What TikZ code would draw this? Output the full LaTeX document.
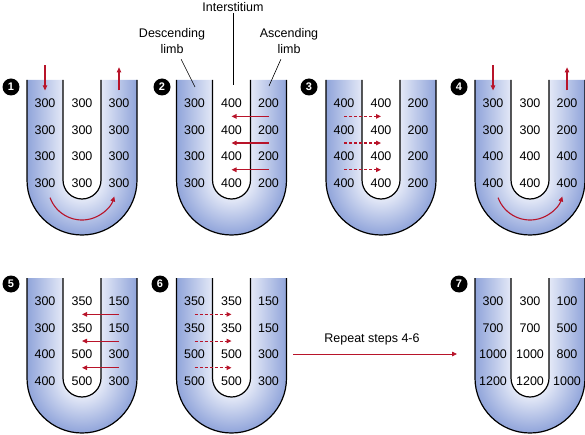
\documentclass[tikz,border=0pt]{standalone}
\usepackage{fontspec}
\setmainfont{Liberation Sans}
\usetikzlibrary{arrows.meta,calc,positioning}
\definecolor{tubedark}{HTML}{90A4DA}
\definecolor{tubelight}{HTML}{E4E9F7}
\definecolor{flow}{HTML}{B8142A}
\pgfdeclareradialshading{tubebend}{\pgfpoint{0bp}{0bp}}{color(0bp)=(tubelight); color(8.6bp)=(tubelight); color(25bp)=(tubedark); color(50bp)=(tubedark)}
\tikzset{
  wall/.style={line width=1.2pt,line join=round},
  num/.style={inner sep=1pt,font=\fontsize{12.5}{15}\selectfont},
  lbl/.style={inner sep=1pt,align=center,font=\fontsize{12.5}{16}\selectfont},
  leader/.style={line width=0.6pt},
  badge/.style={circle,fill=black,text=white,inner sep=0pt,minimum size=17pt,font=\fontsize{11}{11}\selectfont\bfseries},
  pump/.style={flow,line width=1.1pt,-{Triangle[length=5pt,width=4.5pt]}},
  seep/.style={pump,dash pattern=on 3pt off 2pt},
}
% #1 = centre x, #2 = top of the loop
\newcommand{\utube}[2]{%
  \begin{scope}
    \clip (#1-55,#2) -- (#1-55,#2-100) arc[start angle=180,end angle=360,radius=55pt]
      -- (#1+55,#2) -- (#1+19,#2) -- (#1+19,#2-100) arc[start angle=0,end angle=-180,radius=19pt]
      -- (#1-19,#2) -- cycle;
    \shade[left color=tubedark,right color=tubelight] (#1-55,#2-100) rectangle (#1-19,#2);
    \shade[left color=tubelight,right color=tubedark] (#1+19,#2-100) rectangle (#1+55,#2);
    \clip (#1-56,#2-100) rectangle (#1+56,#2-160);
    \shade[shading=tubebend] (#1,#2-100) circle[radius=55pt];
  \end{scope}
  \draw[wall] (#1-55,#2) -- (#1-55,#2-100) arc[start angle=180,end angle=360,radius=55pt] -- (#1+55,#2);
  \draw[wall] (#1-19,#2) -- (#1-19,#2-100) arc[start angle=180,end angle=360,radius=19pt] -- (#1+19,#2);
}
% #1 = name, #2 = centre x, #3 = top, #4 = rows desc/inter/asc
\newcommand{\tubevals}[4]{%
  \foreach \a/\b/\c [count=\r] in {#4} {
    \node[num] (#1-l\r) at (#2-37,#3-23-26.7*\r+26.7) {\a};
    \node[num] (#1-m\r) at (#2,#3-23-26.7*\r+26.7) {\b};
    \node[num] (#1-r\r) at (#2+37,#3-23-26.7*\r+26.7) {\c};
  }}

\begin{document}
\begin{tikzpicture}[x=1pt,y=1pt]
  \useasboundingbox (0,0) rectangle (585,434);
  \foreach \tx/\ty in {82/354,231.5/354,381/354,530/354,82/156,231.5/156,530/156}
    \utube{\tx}{\ty};

  \tubevals{t1}{82}{354}{300/300/300,300/300/300,300/300/300,300/300/300}
  \tubevals{t2}{231.5}{354}{300/400/200,300/400/200,300/400/200,300/400/200}
  \tubevals{t3}{381}{354}{400/400/200,400/400/200,400/400/200,400/400/200}
  \tubevals{t4}{530}{354}{300/300/200,300/300/200,400/400/400,400/400/400}
  \tubevals{t5}{82}{156}{300/350/150,300/350/150,400/500/300,400/500/300}
  \tubevals{t6}{231.5}{156}{350/350/150,350/350/150,500/500/300,500/500/300}
  \tubevals{t7}{530}{156}{300/300/100,700/700/500,1000/1000/800,1200/1200/1000}

  \node[badge] (b1) at (11,347) {1};
  \node[badge] (b2) at (162,347) {2};
  \node[badge] (b3) at (309,347) {3};
  \node[badge] (b4) at (459,347) {4};
  \node[badge] (b5) at (11,150) {5};
  \node[badge] (b6) at (160,150) {6};
  \node[badge] (b7) at (459,150) {7};

  % labels on loop 2
  \node[lbl] (inter) at (233,427) {Interstitium};
  \node[lbl] (desc) at (172,393) {Descending\\limb};
  \node[lbl] (asc) at (289,393) {Ascending\\limb};
  \coordinate (inter-pt) at (233,349);
  \coordinate (desc-pt) at (195,347);
  \coordinate (asc-pt) at (269,348);
  \draw[leader] (inter) -- (inter-pt);
  \draw[leader,shorten <=5pt] (desc) -- (desc-pt);
  \draw[leader,shorten <=5pt] (asc) -- (asc-pt);

  % fluid moving through loops 1 and 4
  \foreach \t/\cx in {t1/82,t4/530} {
    \draw[pump] ([yshift=32pt]\t-l1.north) -- ([yshift=7pt]\t-l1.north);
    \draw[pump] ([yshift=7pt]\t-r1.north) -- ([yshift=30pt]\t-r1.north);
    \coordinate (\t-bend) at (\cx,248);
    \draw[pump] ([shift={(200:34pt)}]\t-bend) arc[start angle=200,end angle=342,radius=34pt];
  }

  % salt pumped out (2, 5), water leaving (3, 6)
  \foreach \i [evaluate=\i as \j using int(\i+1)] in {1,2,3} {
    \draw[pump] ($(t2-r\i)!.5!(t2-r\j)$) -- ($(t2-m\i)!.5!(t2-m\j)$);
    \draw[seep] ($(t3-l\i)!.5!(t3-l\j)$) -- ($(t3-m\i)!.5!(t3-m\j)$);
    \draw[pump] ($(t5-r\i)!.5!(t5-r\j)$) -- ($(t5-m\i)!.5!(t5-m\j)$);
    \draw[seep] ($(t6-l\i)!.5!(t6-l\j)$) -- ($(t6-m\i)!.5!(t6-m\j)$);
  }

  \node[lbl] (rep) at (372,95) {Repeat steps 4-6};
  \coordinate (rep-a) at (293,80);
  \coordinate (rep-b) at (457,80);
  \draw[pump,line width=0.8pt] (rep-a) -- (rep-b);
\end{tikzpicture}
\end{document}
